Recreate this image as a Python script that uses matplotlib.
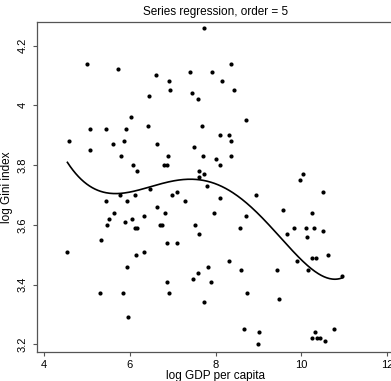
import numpy as np
import matplotlib
matplotlib.use('Agg')
import matplotlib.pyplot as plt

# log GDP per capita vs log Gini index
gdp = [
    5.00, 5.73, 6.62, 6.91, 6.94, 7.41, 7.46, 7.59, 6.45, 6.02,
    5.06, 5.44, 5.91, 6.42, 4.58, 5.07, 5.61, 5.85, 6.64, 5.78,
    6.89, 6.07, 6.17, 6.79, 6.86, 7.62, 7.62, 6.48, 5.77, 6.13,
    6.99, 7.11, 7.74, 8.35, 7.92, 8.16, 8.42, 8.71, 7.69, 8.10,
    8.32, 8.36, 7.50, 7.71, 8.01, 8.10, 8.37, 7.73, 7.80, 10.04,
    9.96, 10.51, 8.95, 8.11, 5.44, 5.93, 7.29, 6.63, 5.62, 5.50,
    5.46, 6.33, 6.81, 5.89, 6.04, 6.70, 6.75, 6.12, 6.17, 7.51,
    7.61, 5.32, 6.86, 7.09, 4.54, 6.14, 6.33, 5.93, 7.58, 7.47,
    6.87, 5.29, 5.84, 6.92, 5.96, 7.97, 8.72, 9.57, 10.25, 8.56,
    9.66, 9.83, 10.12, 10.29, 10.14, 10.51, 8.32, 8.60, 9.43, 9.90,
    10.25, 10.34, 10.62, 10.15, 10.96, 7.83, 7.89, 8.74, 7.72, 9.48,
    8.67, 9.02, 8.99, 10.26, 10.32, 10.38, 10.43, 10.56, 10.77,
]
gini = [
    4.14, 4.12, 4.10, 4.08, 4.05, 4.11, 4.04, 4.02, 4.03, 3.96,
    3.92, 3.92, 3.92, 3.93, 3.88, 3.85, 3.87, 3.88, 3.87, 3.83,
    3.83, 3.80, 3.78, 3.80, 3.80, 3.78, 3.76, 3.72, 3.70, 3.70,
    3.70, 3.71, 4.26, 4.14, 4.11, 4.08, 4.05, 3.95, 3.93, 3.90,
    3.90, 3.88, 3.86, 3.83, 3.82, 3.80, 3.83, 3.77, 3.73, 3.77,
    3.75, 3.71, 3.70, 3.69, 3.68, 3.68, 3.68, 3.66, 3.64, 3.62,
    3.60, 3.63, 3.64, 3.61, 3.62, 3.60, 3.60, 3.59, 3.59, 3.60,
    3.57, 3.55, 3.54, 3.54, 3.51, 3.50, 3.51, 3.46, 3.44, 3.42,
    3.41, 3.37, 3.37, 3.37, 3.29, 3.64, 3.63, 3.65, 3.64, 3.59,
    3.57, 3.59, 3.59, 3.59, 3.56, 3.58, 3.48, 3.45, 3.45, 3.48,
    3.49, 3.49, 3.50, 3.45, 3.43, 3.46, 3.41, 3.37, 3.34, 3.35,
    3.25, 3.24, 3.20, 3.22, 3.24, 3.22, 3.22, 3.21, 3.25,
]
order = 5

x_ticks = [4, 6, 8, 10, 12]
y_ticks = [3.2, 3.4, 3.6, 3.8, 4.0, 4.2]
y_tick_labels = ['3.2', '3.4', '3.6', '3.8', '4', '4.2']

plt.rcParams['font.family'] = ['Liberation Sans', 'DejaVu Sans']

fig = plt.figure(figsize=(3.91, 3.81), dpi=100)
ax = fig.add_axes([37 / 391, 1 - 352 / 381, (395 - 37) / 391, (352 - 22) / 381])

x = np.array(gdp)
y = np.array(gini)
coefs = np.polyfit(x - x.mean(), y, order)
xs = np.linspace(x.min(), x.max(), 300)
ys = np.polyval(coefs, xs - x.mean())

ax.scatter(x, y, s=9, color='black', zorder=3, linewidths=0)
ax.plot(xs, ys, color='black', lw=1.2)

ax.set_xlim(3.83, 12.19)
ax.set_ylim(3.174, 4.279)
ax.set_xticks(x_ticks)
ax.set_yticks(y_ticks)
ax.set_yticklabels(y_tick_labels)

for side in ['left', 'bottom', 'top', 'right']:
    ax.spines[side].set_color('#555555')
    ax.spines[side].set_linewidth(0.9)

ax.tick_params(axis='both', direction='out', length=3, width=0.8,
               color='#555555', labelsize=8)
ax.tick_params(axis='x', pad=2.5)
ax.tick_params(axis='y', pad=4, labelrotation=90)
for lab in ax.get_yticklabels():
    lab.set_va('center')

ax.set_title('Series regression, order = 5', fontsize=8.5, pad=5)
ax.set_xlabel('log GDP per capita', fontsize=8.5, labelpad=0)
ax.set_ylabel('log Gini index', fontsize=8.5, labelpad=3)

fig.savefig('out.png', dpi=100)
